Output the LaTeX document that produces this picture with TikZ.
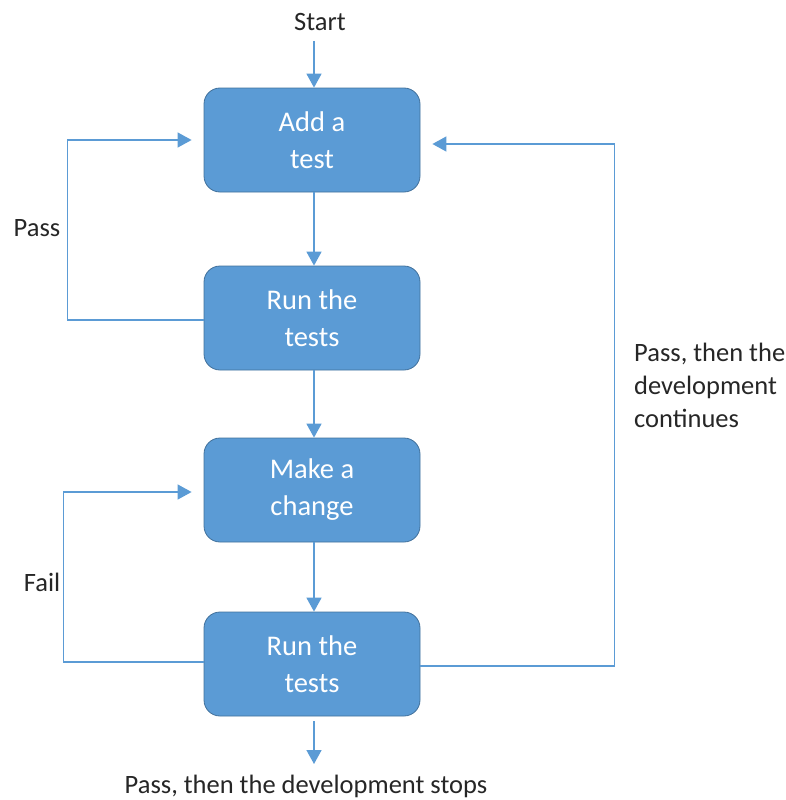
\documentclass[tikz,border=0pt]{standalone}
\usepackage{fontspec}
\setmainfont{Carlito}
\usetikzlibrary{arrows.meta}
\definecolor{boxblue}{HTML}{5B9BD5}
\definecolor{boxedge}{HTML}{41719C}
\definecolor{lineblue}{HTML}{5B9BD5}
\definecolor{txt}{HTML}{262626}
\begin{document}
\begin{tikzpicture}[x=1pt,y=-1pt,
  stepbox/.style={draw=boxedge, line width=0.8pt, fill=boxblue, rounded corners=16pt,
    minimum width=216pt, minimum height=104pt, inner sep=0pt, align=center,
    text=white, font=\fontsize{28.5}{37}\selectfont},
  lbl/.style={text=txt, font=\fontsize{26.5}{33}\selectfont, inner sep=0pt},
  flow/.style={draw=lineblue, line width=1.6pt, -{Triangle[length=14pt,width=15pt]}},
  back/.style={draw=lineblue, line width=1.3pt, -{Triangle[length=14pt,width=15pt]}, shorten >=12pt},
]
\useasboundingbox (0,0) rectangle (786,800);
\node[stepbox] (b1) at (312,140) {Add a\\test};
\node[stepbox] (b2) at (312,318) {Run the\\tests};
\node[stepbox] (b3) at (312,490) {Make a\\change};
\node[stepbox] (b4) at (312,664) {Run the\\tests};
\node[lbl] (start) at (320,22) {Start};
\node[lbl] (stop) at (306,786) {Pass, then the development stops};
\node[lbl] (pass) at (37,228) {Pass};
\node[lbl] (fail) at (42,582) {Fail};
\node[lbl, anchor=west, align=left] (cont) at (634,385) {Pass, then the\\development\\continues};
\coordinate (endarrow) at (314,764);
\draw[flow] ([xshift=2pt]b1.north |- start.south) ++(0,10) -- ([xshift=2pt]b1.north);
\draw[flow] ([xshift=2pt]b1.south) -- ([xshift=2pt]b2.north);
\draw[flow] ([xshift=2pt]b2.south) -- ([xshift=2pt]b3.north);
\draw[flow] ([xshift=2pt]b3.south) -- ([xshift=2pt]b4.north);
\draw[flow] ([xshift=2pt,yshift=-5pt]b4.south) -- (endarrow);
\draw[back] ([yshift=-2pt]b2.west) -- ++(-136,0) |- (b1.west);
\draw[back] ([yshift=2pt]b4.west) -- ++(-140,0) |- ([yshift=-2pt]b3.west);
\draw[back] ([yshift=-2pt]b4.east) -- ++(194,0) |- ([yshift=-4pt]b1.east);
\end{tikzpicture}
\end{document}
